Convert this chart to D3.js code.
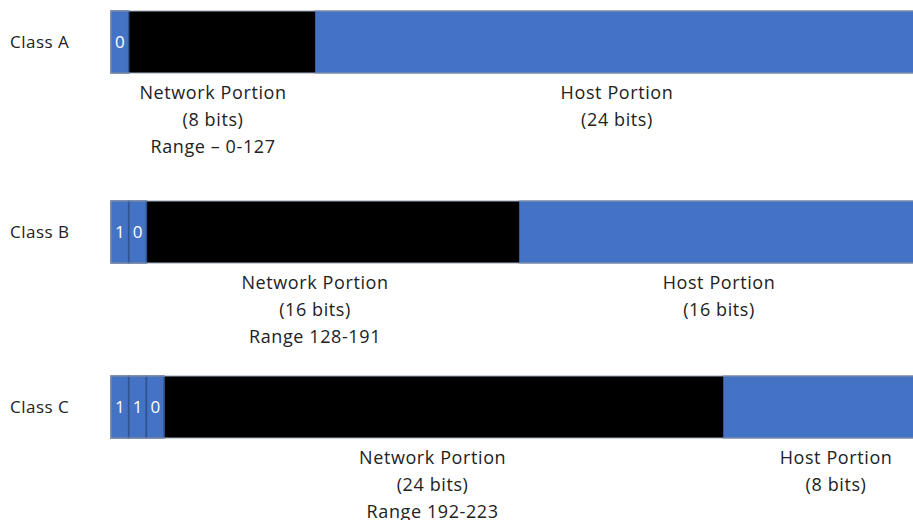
<!DOCTYPE html>
<html><head><meta charset="utf-8">
<script src="https://cdn.jsdelivr.net/npm/d3@7"></script>
<style>body{margin:0;background:#fff;}svg{display:block;}text{font-family:"Open Sans",Lato,sans-serif;}</style>
</head><body>
<svg id="c" width="913" height="520"></svg>
<script>
// Data
const classes = ["Class A", "Class B", "Class C"];
const prefixBits = [["0"], ["1","0"], ["1","1","0"]];
const networkBits = [8, 16, 24];
const hostBits = [24, 16, 8];
const ranges = ["Range \u2013 0-127", "Range 128-191", "Range 192-223"];

// Layout
const W = 913, H = 520;
const rowTops = [11, 201, 376];
const barH = 62;
const x0 = 111, cellW = 17.7, bitW = 26.62;
const blue = "#4472C4", cellLine = "#2F528F";

const svg = d3.select("#c");
const bitScale = d3.scaleLinear().domain([0, 32]).range([0, 32 * bitW]);

classes.forEach((cls, i) => {
  const top = rowTops[i];
  const g = svg.append("g");
  const nPre = prefixBits[i].length;
  const netStart = x0 + nPre * cellW;
  const netEnd = netStart + bitScale(networkBits[i] - nPre);
  const hostEnd = netEnd + bitScale(hostBits[i]);

  g.append("rect").attr("x", netEnd).attr("y", top).attr("width", hostEnd - netEnd).attr("height", barH)
    .attr("fill", blue).attr("stroke", "#2F528F").attr("stroke-width", 1);
  g.append("rect").attr("x", netStart).attr("y", top).attr("width", netEnd - netStart).attr("height", barH)
    .attr("fill", "#000");
  prefixBits[i].forEach((b, j) => {
    g.append("rect").attr("x", x0 + j * cellW).attr("y", top).attr("width", cellW).attr("height", barH)
      .attr("fill", blue).attr("stroke", cellLine).attr("stroke-width", 1.5);
    g.append("text").attr("x", x0 + j * cellW + cellW / 2).attr("y", top + barH / 2 + 6)
      .attr("text-anchor", "middle").attr("fill", "#fff").attr("font-size", 17).text(b);
  });
  g.append("rect").attr("x", x0).attr("y", top).attr("width", hostEnd - x0).attr("height", barH)
    .attr("fill", "none").attr("stroke", "#9aa6b8").attr("stroke-width", 1);

  g.append("text").attr("x", 10).attr("y", top + barH / 2 + 6).attr("font-size", 17)
    .attr("letter-spacing", 0.5).attr("fill", "#222").text(cls);

  const netCx = i === 2 ? (netStart + netEnd) / 2 - 11 : (x0 + netEnd) / 2;
  const hostCx = (netEnd + Math.min(hostEnd, W)) / 2 + 3 + (i === 2 ? 15 : 0);
  const ly = top + barH + 26;
  const netLines = ["Network Portion", "(" + networkBits[i] + " bits)", ranges[i]];
  netLines.forEach((t, k) => {
    g.append("text").attr("x", netCx).attr("y", ly + k * 27).attr("text-anchor", "middle")
      .attr("font-size", 18).attr("letter-spacing", 0.6).attr("fill", "#222").text(t);
  });
  ["Host Portion", "(" + hostBits[i] + " bits)"].forEach((t, k) => {
    g.append("text").attr("x", hostCx).attr("y", ly + k * 27).attr("text-anchor", "middle")
      .attr("font-size", 18).attr("letter-spacing", 0.6).attr("fill", "#222").text(t);
  });
});
</script>
</body></html>
